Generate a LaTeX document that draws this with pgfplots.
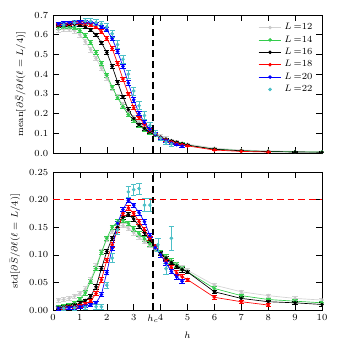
\documentclass[border=0pt]{standalone}
\usepackage{pgfplots}
\pgfplotsset{compat=1.18}
\usetikzlibrary{calc}

\definecolor{cgray}{rgb}{0.78,0.78,0.78}
\definecolor{cgreen}{rgb}{0.2,0.8,0.3}
\definecolor{ccyan}{rgb}{0.3,0.75,0.78}

\pgfplotsset{
  panel/.style={
    width=201.75pt, height=103.5pt, scale only axis,
    xmin=0, xmax=10,
    xtick={0,1,...,10},
    tick label style={font=\scriptsize},
    label style={font=\scriptsize},
    tick style={black, thin},
    extra x tick style={grid=none},
  },
  ser/.style={color=#1, mark=*, mark size=1.1pt, line width=0.5pt,
    error bars/y dir=both, error bars/y explicit,
    error bars/error mark options={rotate=90, mark size=2pt, line width=0.5pt, color=#1}},
}

\begin{document}
\begin{tikzpicture}
% ---------- top: mean ----------
\begin{axis}[panel, name=top,
    ymin=0, ymax=0.7, ytick={0,0.1,...,0.7},
    yticklabel style={/pgf/number format/.cd, fixed, fixed zerofill, precision=1},
    xticklabels={},
    extra x ticks={3.72}, extra x tick labels={},
    ylabel={$\mathrm{mean}[\partial\bar{S}/\partial\ell(\ell=L/4)]$},
    legend style={draw=none, fill=none, at={(0.99,0.98)}, anchor=north east,
      font=\scriptsize, row sep=-1pt},
    legend cell align=left,
]
\addplot[ser=cgray, opacity=0.8] table[x=h, y=m, y error=e] {
h m e
0.2 0.625 0.012
0.4 0.628 0.012
0.6 0.627 0.012
0.8 0.620 0.012
1.0 0.600 0.012
1.2 0.565 0.012
1.4 0.525 0.012
1.6 0.480 0.012
1.8 0.430 0.012
2.0 0.380 0.012
2.2 0.330 0.012
2.4 0.285 0.012
2.6 0.245 0.012
2.8 0.210 0.012
3.0 0.180 0.012
3.2 0.155 0.010
3.4 0.133 0.010
3.6 0.114 0.010
3.8 0.098 0.008
4.0 0.085 0.008
4.2 0.074 0.008
4.4 0.064 0.006
4.6 0.056 0.006
4.8 0.050 0.006
5 0.045 0.005
6 0.025 0.004
7 0.015 0.003
8 0.011 0.003
9 0.008 0.002
10 0.006 0.002
};
\addlegendentry{$L\,{=}12$}
\addplot[ser=cgreen] table[x=h, y=m, y error=e] {
h m e
0.2 0.637 0.010
0.4 0.640 0.010
0.6 0.640 0.010
0.8 0.635 0.010
1.0 0.620 0.010
1.2 0.595 0.010
1.4 0.560 0.010
1.6 0.510 0.010
1.8 0.455 0.010
2.0 0.395 0.010
2.2 0.335 0.010
2.4 0.280 0.010
2.6 0.235 0.010
2.8 0.195 0.010
3.0 0.165 0.008
3.2 0.140 0.008
3.4 0.120 0.008
3.6 0.104 0.008
3.8 0.090 0.006
4.0 0.078 0.006
4.2 0.068 0.006
4.4 0.060 0.005
4.6 0.053 0.005
4.8 0.047 0.005
5 0.040 0.004
6 0.020 0.003
7 0.012 0.002
8 0.008 0.002
9 0.006 0.002
10 0.005 0.002
};
\addlegendentry{$L\,{=}14$}
\addplot[ser=black] table[x=h, y=m, y error=e] {
h m e
0.2 0.647 0.008
0.4 0.650 0.008
0.6 0.652 0.008
0.8 0.652 0.008
1.0 0.648 0.008
1.2 0.640 0.008
1.4 0.625 0.008
1.6 0.600 0.008
1.8 0.560 0.008
2.0 0.510 0.010
2.2 0.440 0.010
2.4 0.360 0.010
2.6 0.285 0.010
2.8 0.220 0.010
3.0 0.175 0.008
3.2 0.145 0.008
3.4 0.125 0.008
3.6 0.108 0.006
3.8 0.093 0.006
4.0 0.080 0.006
4.2 0.070 0.005
4.4 0.061 0.005
4.6 0.054 0.005
4.8 0.047 0.004
5 0.040 0.004
6 0.019 0.003
7 0.011 0.002
8 0.007 0.002
9 0.005 0.002
10 0.004 0.002
};
\addlegendentry{$L\,{=}16$}
\addplot[ser=red] table[x=h, y=m, y error=e] {
h m e
0.2 0.652 0.008
0.4 0.655 0.008
0.6 0.658 0.008
0.8 0.660 0.008
1.0 0.660 0.008
1.2 0.657 0.008
1.4 0.650 0.008
1.6 0.638 0.008
1.8 0.615 0.010
2.0 0.580 0.010
2.2 0.530 0.010
2.4 0.455 0.010
2.6 0.375 0.010
2.8 0.300 0.010
3.0 0.230 0.010
3.2 0.180 0.008
3.4 0.145 0.008
3.6 0.115 0.008
3.8 0.095 0.006
4.0 0.078 0.006
4.2 0.066 0.005
4.4 0.056 0.005
4.6 0.048 0.005
4.8 0.042 0.004
5 0.036 0.004
6 0.015 0.003
7 0.008 0.002
8 0.005 0.002
};
\addlegendentry{$L\,{=}18$}
\addplot[ser=blue] table[x=h, y=m, y error=e] {
h m e
0.2 0.655 0.008
0.4 0.658 0.008
0.6 0.661 0.008
0.8 0.664 0.008
1.0 0.665 0.008
1.2 0.665 0.008
1.4 0.662 0.008
1.6 0.655 0.008
1.8 0.640 0.010
2.0 0.625 0.010
2.2 0.580 0.010
2.4 0.515 0.010
2.6 0.440 0.012
2.8 0.355 0.012
3.0 0.270 0.012
3.2 0.200 0.010
3.4 0.155 0.010
3.6 0.120 0.008
3.8 0.095 0.008
4.0 0.075 0.006
4.2 0.062 0.006
4.4 0.050 0.005
4.6 0.042 0.005
4.8 0.035 0.005
};
\addlegendentry{$L\,{=}20$}
\addplot[ser=ccyan, only marks] table[x=h, y=m, y error=e] {
h m e
0.4 0.650 0.015
0.8 0.660 0.015
1.2 0.670 0.015
1.4 0.668 0.015
1.6 0.662 0.015
1.8 0.655 0.015
2.0 0.640 0.018
2.2 0.605 0.018
2.4 0.550 0.020
2.6 0.475 0.020
2.8 0.400 0.020
3.0 0.315 0.020
3.2 0.240 0.020
3.4 0.190 0.020
3.6 0.140 0.018
3.8 0.100 0.015
4.0 0.075 0.012
4.2 0.055 0.010
4.4 0.045 0.010
};
\addlegendentry{$L\,{=}22$}
\addplot[black, line width=1.2pt, dash pattern=on 5pt off 3pt, forget plot]
  coordinates {(3.72,0) (3.72,0.7)};
\end{axis}

% ---------- bottom: std ----------
\begin{axis}[panel, name=bot, at={(top.south west)}, anchor=north west, yshift=-14.25pt,
    ymin=0, ymax=0.25, ytick={0,0.05,...,0.25},
    yticklabel style={/pgf/number format/.cd, fixed, fixed zerofill, precision=2},
    extra x ticks={3.72}, extra x tick labels={$h_c$},
    xlabel={$h$},
    ylabel={$\mathrm{std}[\partial\bar{S}/\partial\ell(\ell=L/4)]$},
]
\addplot[ser=cgray, opacity=0.8] table[x=h, y=s, y error=e] {
h s e
0.2 0.018 0.004
0.4 0.019 0.004
0.6 0.021 0.004
0.8 0.025 0.004
1.0 0.030 0.004
1.2 0.038 0.004
1.4 0.055 0.004
1.6 0.080 0.004
1.8 0.105 0.004
2.0 0.128 0.004
2.2 0.143 0.004
2.4 0.152 0.004
2.6 0.153 0.004
2.8 0.148 0.004
3.0 0.140 0.004
3.2 0.132 0.004
3.4 0.124 0.004
3.6 0.117 0.004
3.8 0.110 0.004
4.0 0.103 0.004
4.2 0.096 0.004
4.4 0.089 0.004
4.6 0.083 0.004
4.8 0.077 0.004
5 0.072 0.003
6 0.045 0.003
7 0.033 0.003
8 0.026 0.003
9 0.021 0.003
10 0.018 0.003
};
\addplot[ser=cgreen] table[x=h, y=s, y error=e] {
h s e
0.2 0.006 0.003
0.4 0.007 0.003
0.6 0.009 0.003
0.8 0.013 0.003
1.0 0.020 0.003
1.2 0.031 0.004
1.4 0.052 0.004
1.6 0.075 0.004
1.8 0.104 0.004
2.0 0.130 0.004
2.2 0.150 0.004
2.4 0.160 0.004
2.6 0.163 0.004
2.8 0.157 0.004
3.0 0.147 0.004
3.2 0.138 0.004
3.4 0.129 0.004
3.6 0.120 0.004
3.8 0.112 0.004
4.0 0.104 0.004
4.2 0.096 0.004
4.4 0.089 0.004
4.6 0.082 0.004
4.8 0.075 0.004
5 0.069 0.003
6 0.039 0.003
7 0.026 0.003
8 0.019 0.003
9 0.016 0.003
10 0.013 0.003
};
\addplot[ser=black] table[x=h, y=s, y error=e] {
h s e
0.2 0.004 0.003
0.4 0.005 0.003
0.6 0.007 0.003
0.8 0.009 0.003
1.0 0.012 0.003
1.2 0.017 0.003
1.4 0.025 0.004
1.6 0.042 0.004
1.8 0.075 0.004
2.0 0.106 0.004
2.2 0.130 0.004
2.4 0.150 0.004
2.6 0.168 0.004
2.8 0.173 0.004
3.0 0.165 0.004
3.2 0.152 0.004
3.4 0.140 0.004
3.6 0.127 0.004
3.8 0.115 0.004
4.0 0.103 0.004
4.2 0.094 0.004
4.4 0.086 0.004
4.6 0.079 0.004
4.8 0.073 0.004
5 0.069 0.003
6 0.033 0.003
7 0.021 0.003
8 0.015 0.003
9 0.013 0.003
10 0.010 0.003
};
\addplot[ser=red] table[x=h, y=s, y error=e] {
h s e
0.2 0.003 0.003
0.4 0.004 0.003
0.6 0.005 0.003
0.8 0.006 0.003
1.0 0.008 0.003
1.2 0.011 0.003
1.4 0.016 0.003
1.6 0.030 0.004
1.8 0.055 0.004
2.0 0.090 0.004
2.2 0.118 0.004
2.4 0.145 0.004
2.6 0.175 0.004
2.8 0.185 0.004
3.0 0.175 0.004
3.2 0.160 0.004
3.4 0.145 0.004
3.6 0.130 0.004
3.8 0.115 0.004
4.0 0.100 0.004
4.2 0.088 0.004
4.4 0.077 0.004
4.6 0.067 0.004
4.8 0.060 0.004
5 0.055 0.003
6 0.023 0.003
7 0.015 0.003
8 0.009 0.003
};
\addplot[ser=blue] table[x=h, y=s, y error=e] {
h s e
0.2 0.003 0.003
0.4 0.003 0.003
0.6 0.004 0.003
0.8 0.005 0.003
1.0 0.006 0.003
1.2 0.007 0.003
1.4 0.009 0.003
1.6 0.013 0.003
1.8 0.028 0.004
2.0 0.068 0.004
2.2 0.112 0.004
2.4 0.157 0.004
2.6 0.182 0.004
2.8 0.199 0.004
3.0 0.190 0.004
3.2 0.176 0.004
3.4 0.160 0.004
3.6 0.135 0.004
3.8 0.113 0.004
4.0 0.100 0.004
4.2 0.085 0.004
4.4 0.070 0.004
4.6 0.060 0.004
4.8 0.052 0.004
};
\addplot[ser=ccyan, only marks] table[x=h, y=s, y error=e] {
h s e
0.4 0.003 0.004
0.8 0.004 0.004
1.2 0.005 0.004
1.6 0.006 0.004
1.8 0.006 0.004
2.0 0.045 0.006
2.2 0.094 0.008
2.4 0.145 0.008
2.8 0.214 0.010
3.0 0.218 0.010
3.2 0.220 0.010
3.4 0.190 0.012
3.6 0.190 0.012
3.9 0.118 0.012
4.2 0.075 0.010
4.4 0.130 0.022
};
\addplot[color=red, mark=none, line width=1.3pt, dash pattern=on 5pt off 3pt] coordinates {(0,0.2) (10,0.2)};
\addplot[color=black, mark=none, line width=1.2pt, dash pattern=on 5pt off 3pt] coordinates {(3.72,0) (3.72,0.25)};
\end{axis}
\path ($(top.north west)+(-39.75pt,11.25pt)$) coordinate (bbA);
\path ($(bot.south east)+(12pt,-30pt)$) coordinate (bbB);
\pgfresetboundingbox
\useasboundingbox (bbA) rectangle (bbB);
\end{tikzpicture}
\end{document}
